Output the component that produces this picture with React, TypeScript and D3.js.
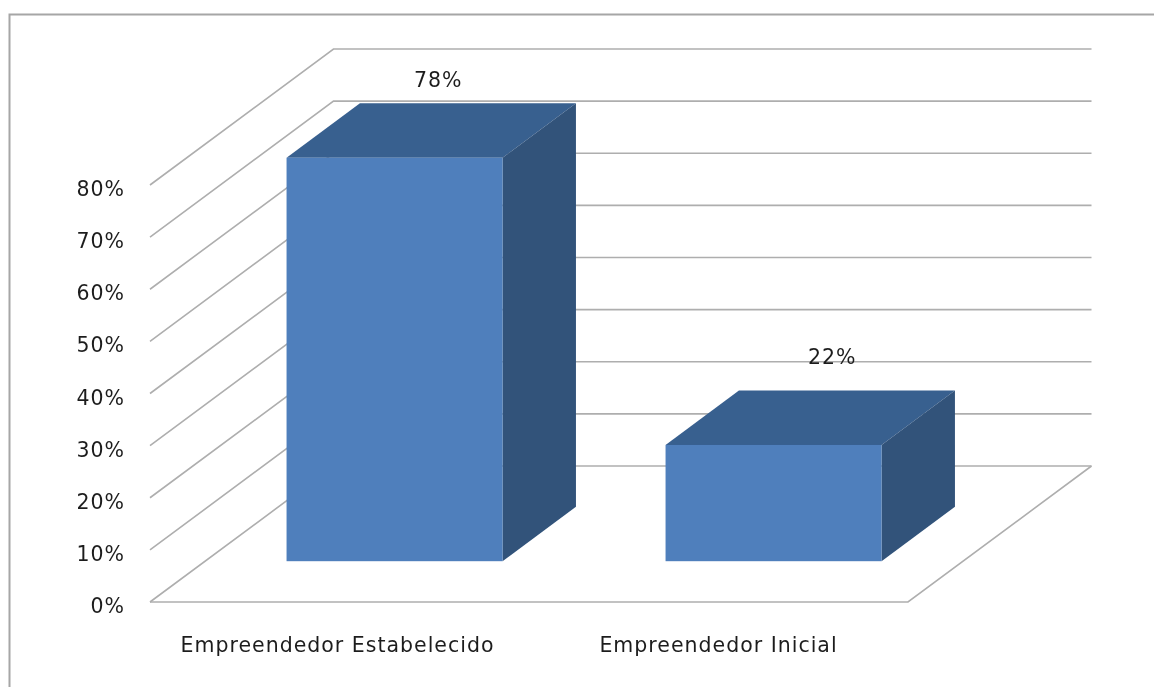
import React from "react";
import * as d3 from "d3";

const categories = ["Empreendedor Estabelecido", "Empreendedor Inicial"];
const values = [77.4, 22.3];
const valueLabels = ["78%", "22%"];
const tickValues = [0, 10, 20, 30, 40, 50, 60, 70, 80];

const W = 1154, H = 687;
const x = d3.scaleBand<string>().domain(categories).range([150, 908]);
const y = d3.scaleLinear().domain([0, 80]).range([602, 185]);
const wallDx = 183.5, wallDy = -136;
const barInset = 0.3, barDepth = 0.4;
const barWidth = 216;
const textColor = "#1f1f1f";
const font = "'DejaVu Sans', sans-serif";
const gridColor = "#aeaeae";
const labelOffsetX = [7, 22];
const labelOffsetY = [-16, -27];
const categoryOffsetX = [-2, 0];

export default function App() {
  const floorShiftX = wallDx * barInset, floorShiftY = wallDy * barInset;
  const bDx = wallDx * barDepth, bDy = wallDy * barDepth;
  const line = d3.line();
  const txt = { fontFamily: font, fontSize: 20.5, letterSpacing: 1, fill: textColor };
  return (
    <svg width={W} height={H} style={{ position: "absolute", left: 0, top: 0, background: "#fff" }}>
      <defs>
        <filter id="soft" x="0" y="0" width="100%" height="100%">
          <feGaussianBlur stdDeviation="0.5" />
        </filter>
      </defs>
      <g filter="url(#soft)">
        <rect width={W} height={H} fill="#fff" />
        <path d={`M9.5,${H} V14.5 H${W}`} fill="none" stroke="#a6a6a6" strokeWidth={2} />
        {tickValues.map((t) => {
          const yy = y(t);
          return (
            <g key={t}>
              <path
                d={line([[150, yy], [150 + wallDx, yy + wallDy], [908 + wallDx, yy + wallDy]])!}
                fill="none"
                stroke={gridColor}
                strokeWidth={1.6}
              />
              <text x={125} y={yy + 11} textAnchor="end" {...txt}>
                {t}%
              </text>
            </g>
          );
        })}
        <path d={line([[150, 602], [908, 602], [908 + wallDx, 602 + wallDy]])!} fill="none" stroke={gridColor} strokeWidth={1.6} />
        {categories.map((c, i) => {
          const cx = x(c)! + x.bandwidth() / 2 + floorShiftX;
          const x0 = cx - barWidth / 2, x1 = cx + barWidth / 2;
          const base = y(0) + floorShiftY;
          const top = base - (y(0) - y(values[i]));
          return (
            <g key={c}>
              <path d={line([[x0, top], [x0 + bDx, top + bDy], [x1 + bDx, top + bDy], [x1, top]])! + "Z"} fill="#39608f" />
              <path d={line([[x1, top], [x1 + bDx, top + bDy], [x1 + bDx, base + bDy], [x1, base]])! + "Z"} fill="#30527a" />
              <rect x={x0} y={top} width={barWidth} height={base - top} fill="#4f7fbc" />
              <text x={cx + bDx / 2 + labelOffsetX[i]} y={top + bDy + labelOffsetY[i]} textAnchor="middle" {...txt}>
                {valueLabels[i]}
              </text>
              <text x={x(c)! + x.bandwidth() / 2 + categoryOffsetX[i]} y={652} textAnchor="middle" {...txt}>
                {c}
              </text>
            </g>
          );
        })}
      </g>
    </svg>
  );
}
